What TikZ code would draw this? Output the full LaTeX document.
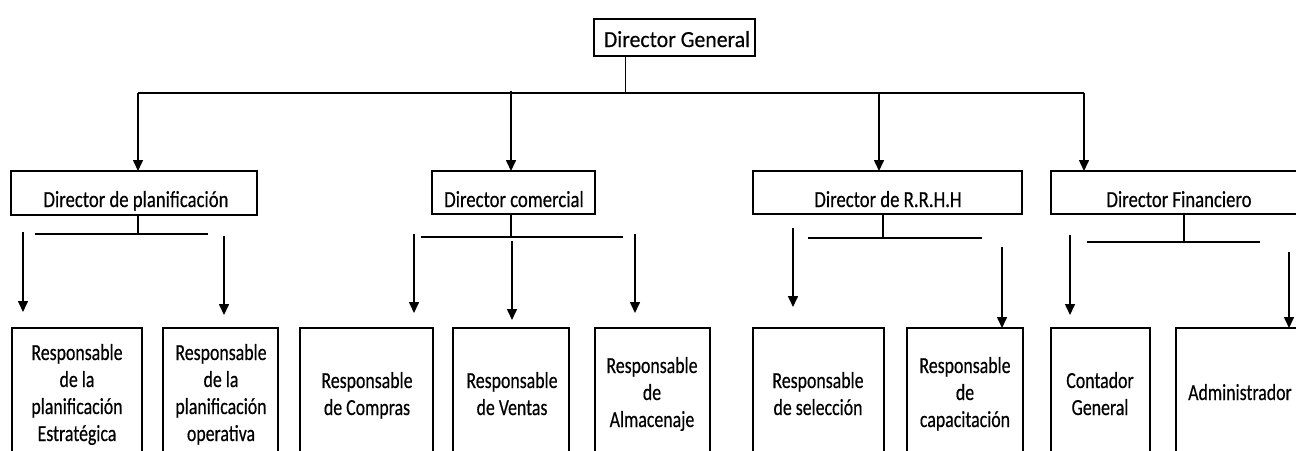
\documentclass[tikz,border=0pt]{standalone}
\usepackage{fontspec}
\setmainfont{Carlito}[FakeStretch=0.775,FakeBold=0.4]
\newfontfamily\titlefont{Carlito}[FakeStretch=0.813,FakeBold=0.4]
\newfontfamily\dgfont{Carlito}[FakeStretch=0.947,FakeBold=0.4]
\usetikzlibrary{arrows.meta}
\begin{document}
\begin{tikzpicture}[x=1pt,y=-1pt,
  every node/.style={inner sep=0pt,outer sep=0pt},
  boxn/.style={draw,line width=1.6pt,anchor=north west},
  txt/.style={anchor=base,font=\fontsize{23}{27}\selectfont},
  ttl/.style={anchor=base,font=\titlefont\fontsize{23}{27}\selectfont},
  dgt/.style={anchor=base,font=\dgfont\fontsize{23}{27}\selectfont},
  conn/.style={line width=1.6pt},
  thinconn/.style={line width=1pt},
  arr/.style={line width=1.6pt,-{Triangle[width=10pt,length=11pt]}}]
\useasboundingbox[fill=white] (0,0) rectangle (1296,450);
\clip (0,0) rectangle (1296,450);
% ---------- top ----------
\node[boxn,minimum width=161pt,minimum height=37pt] (dg) at (594,19) {};
\node[dgt] (dgtx) at (677,47) {Director General};
% ---------- directors ----------
\node[boxn,minimum width=246pt,minimum height=44pt] (plan) at (11,171) {};
\node[ttl] (plant) at (136,207) {Director de planificación};
\node[boxn,minimum width=163pt,minimum height=43pt] (com) at (432,171) {};
\node[ttl] (comt) at (514,207) {Director comercial};
\node[boxn,minimum width=269pt,minimum height=43pt] (rrhh) at (753,171) {};
\node[ttl] (rrhht) at (888,207) {Director de R.R.H.H};
\node[boxn,minimum width=256pt,minimum height=43pt] (fin) at (1051,171) {};
\node[ttl] (fint) at (1179,207) {Director Financiero};
% ---------- bottom boxes ----------
\node[boxn,minimum width=130pt,minimum height=140pt] (b1) at (12,328) {};
\node[boxn,minimum width=115pt,minimum height=140pt] (b2) at (163,328) {};
\node[boxn,minimum width=133pt,minimum height=140pt] (b3) at (300,328) {};
\node[boxn,minimum width=116pt,minimum height=140pt] (b4) at (453,328) {};
\node[boxn,minimum width=115pt,minimum height=140pt] (b5) at (595,328) {};
\node[boxn,minimum width=131pt,minimum height=140pt] (b6) at (753,328) {};
\node[boxn,minimum width=116pt,minimum height=140pt] (b7) at (907,328) {};
\node[boxn,minimum width=99pt,minimum height=140pt] (b8) at (1051,328) {};
\node[boxn,minimum width=130pt,minimum height=140pt] (b9) at (1176,328) {};
\node[txt] (b1t) at (77,360) {\begin{tabular}[t]{@{}c@{}}Responsable\\de la\\planificación\\Estratégica\end{tabular}};
\node[txt] (b2t) at (221,360) {\begin{tabular}[t]{@{}c@{}}Responsable\\de la\\planificación\\operativa\end{tabular}};
\node[txt] (b3t) at (367,388) {\begin{tabular}[t]{@{}c@{}}Responsable\\de Compras\end{tabular}};
\node[txt] (b4t) at (512,388) {\begin{tabular}[t]{@{}c@{}}Responsable\\de Ventas\end{tabular}};
\node[txt] (b5t) at (652,373) {\begin{tabular}[t]{@{}c@{}}Responsable\\de\\Almacenaje\end{tabular}};
\node[txt] (b6t) at (818,388) {\begin{tabular}[t]{@{}c@{}}Responsable\\de selección\end{tabular}};
\node[txt] (b7t) at (965,373) {\begin{tabular}[t]{@{}c@{}}Responsable\\de\\capacitación\end{tabular}};
\node[txt] (b8t) at (1100,388) {\begin{tabular}[t]{@{}c@{}}Contador\\General\end{tabular}};
\node[txt] (b9t) at (1240,400) {Administrador};
% ---------- main bus ----------
\coordinate (dgj) at (625,56);
\coordinate (busL) at (138,93);
\coordinate (busR) at (1084,93);
\coordinate (comin) at (511,91);
\coordinate (rrin) at (879,93);
\draw[thinconn] (dgj) -- (dgj |- busL);
\draw[conn] (busL) -- (busR);
\draw[arr] (busL) -- (busL |- plan.north);
\draw[arr] (comin) -- (comin |- com.north);
\draw[arr] (rrin) -- (rrin |- rrhh.north);
\draw[arr] (busR) -- (busR |- fin.north);
% ---------- planificacion ----------
\coordinate (pj) at (138,234);
\coordinate (pl) at (35,234);
\coordinate (pr) at (208,234);
\draw[conn] (pj |- plan.south) -- (pj);
\draw[conn] (pl) -- (pr);
\coordinate (a1s) at (23,232); \coordinate (a1e) at (23,312);
\coordinate (a2s) at (224,236); \coordinate (a2e) at (224,315);
\draw[arr] (a1s) -- (a1e);
\draw[arr] (a2s) -- (a2e);
% ---------- comercial ----------
\coordinate (cj) at (511,237);
\coordinate (cl) at (421,237);
\coordinate (cr) at (623,237);
\draw[conn] (cj |- com.south) -- (cj);
\draw[conn] (cl) -- (cr);
\coordinate (a3s) at (414,234); \coordinate (a3e) at (414,313);
\coordinate (a4s) at (512,241); \coordinate (a4e) at (512,320);
\coordinate (a5s) at (635,234); \coordinate (a5e) at (635,313);
\draw[arr] (a3s) -- (a3e);
\draw[arr] (a4s) -- (a4e);
\draw[arr] (a5s) -- (a5e);
% ---------- RRHH ----------
\coordinate (rj) at (883,238);
\coordinate (rl) at (808,238);
\coordinate (rr) at (982,238);
\draw[conn] (rj |- rrhh.south) -- (rj);
\draw[conn] (rl) -- (rr);
\coordinate (a6s) at (793,228); \coordinate (a6e) at (793,307);
\coordinate (a7s) at (1002,247);
\draw[arr] (a6s) -- (a6e);
\draw[arr] (a7s) -- (a7s |- b7.north);
% ---------- financiero ----------
\coordinate (fj) at (1184,242);
\coordinate (fl) at (1087,242);
\coordinate (fr) at (1260,242);
\draw[conn] (fj |- fin.south) -- (fj);
\draw[conn] (fl) -- (fr);
\coordinate (a8s) at (1070,235); \coordinate (a8e) at (1070,315);
\coordinate (a9s) at (1289,252);
\draw[arr] (a8s) -- (a8e);
\draw[arr] (a9s) -- (a9s |- b9.north);
\end{tikzpicture}
\end{document}
